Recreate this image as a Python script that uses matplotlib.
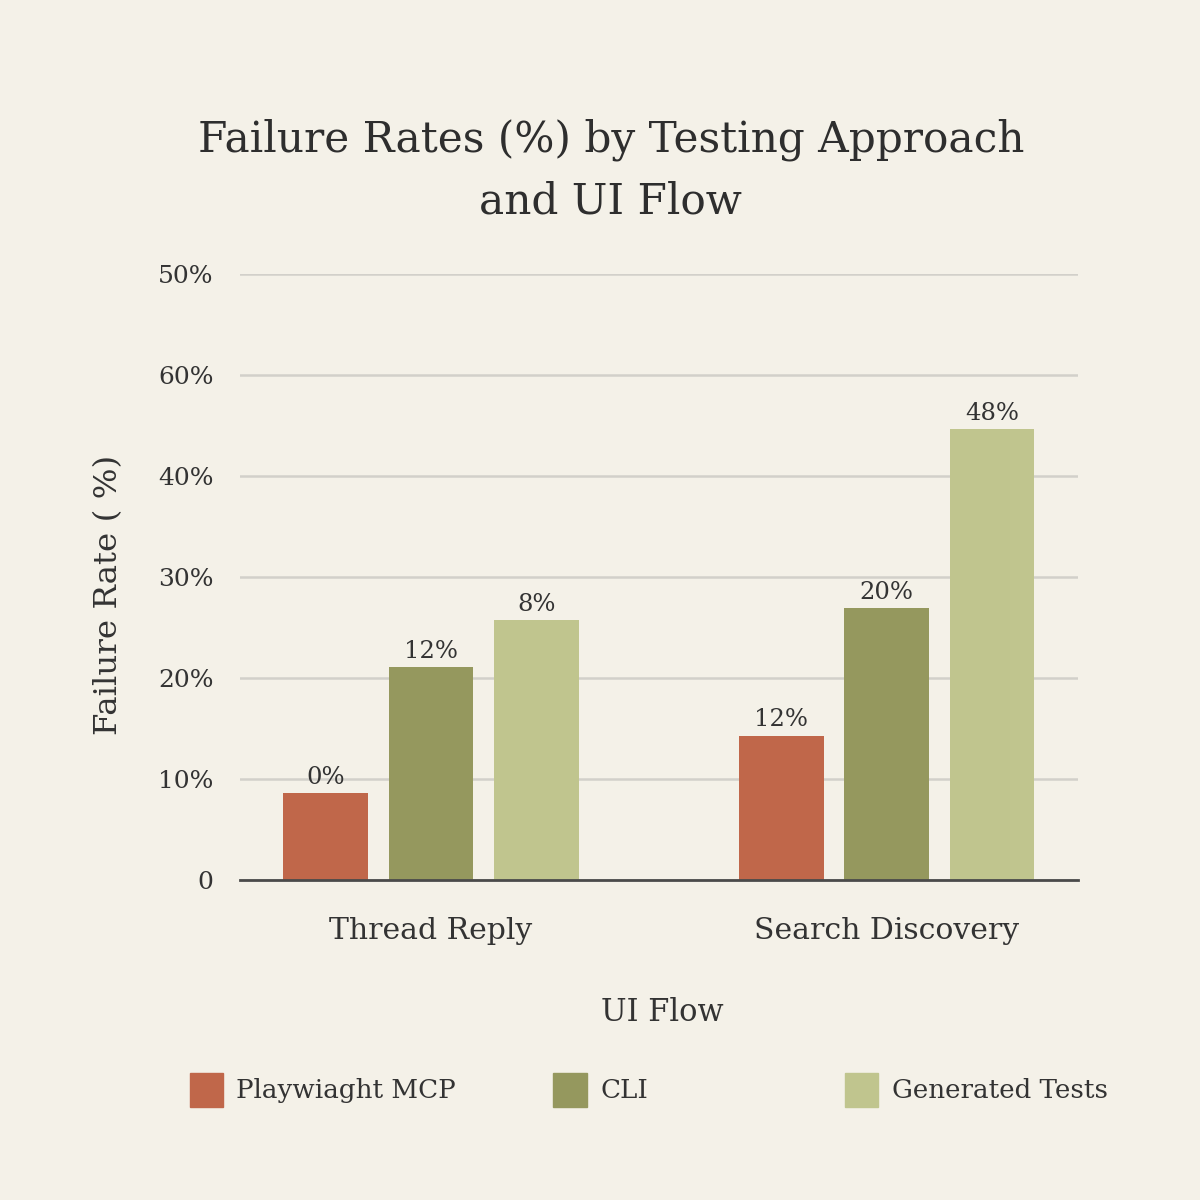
import matplotlib
matplotlib.use("Agg")
import matplotlib.pyplot as plt
import matplotlib.patches as mpatches
import numpy as np

flows = ["Thread Reply", "Search Discovery"]
approaches = ["Playwiaght MCP", "CLI", "Generated Tests"]
# bar heights as drawn against the axis
playwright_vals = [8.6, 14.3]
cli_vals = [21.1, 26.9]
generated_vals = [25.7, 44.6]
# labels printed above the bars
playwright_labels = ["0%", "12%"]
cli_labels = ["12%", "20%"]
generated_labels = ["8%", "48%"]
y_ticks = [0, 10, 20, 30, 40, 50, 60]
y_tick_labels = ["0", "10%", "20%", "30%", "40%", "60%", "50%"]

colors = ["#C0674A", "#95985E", "#C0C58E"]
bg = "#F4F1E8"
text_color = "#333333"

plt.rcParams["font.family"] = ["DejaVu Serif"]

fig = plt.figure(figsize=(12, 12), dpi=100, facecolor=bg)
ax = fig.add_axes([0.2, 0.2667, 0.698, 0.505], facecolor=bg)

x = np.arange(len(flows))
width = 0.186
step = 0.231
series = [playwright_vals, cli_vals, generated_vals]
labels = [playwright_labels, cli_labels, generated_labels]
for i, (vals, labs) in enumerate(zip(series, labels)):
    bars = ax.bar(x + (i - 1) * step, vals, width, color=colors[i], zorder=3)
    for bar, lab in zip(bars, labs):
        ax.annotate(lab, (bar.get_x() + bar.get_width() / 2, bar.get_height()),
                    xytext=(0, 3), textcoords="offset points",
                    ha="center", va="bottom", fontsize=17.5, color=text_color)

ax.set_xlim(-0.419, 1.419)
ax.set_ylim(0, 60)
ax.set_yticks(y_ticks)
ax.set_yticklabels(y_tick_labels)
ax.set_xticks(x)
ax.set_xticklabels(flows)
ax.tick_params(axis="y", length=0, pad=19, labelsize=18, labelcolor=text_color)
ax.tick_params(axis="x", length=0, pad=27, labelsize=21.5, labelcolor=text_color)
ax.grid(axis="y", color="#D2D0CA", linewidth=1.8, zorder=0)
for side in ["left", "right", "top"]:
    ax.spines[side].set_visible(False)
ax.spines["bottom"].set_color("#4A4A4A")
ax.spines["bottom"].set_linewidth(2)
ax.spines["bottom"].set_zorder(4)

ax.set_ylabel("Failure Rate ( %)", fontsize=23.4, color=text_color)
ax.yaxis.set_label_coords(-0.138, 0.47)
ax.set_xlabel("UI Flow", fontsize=22, color=text_color)
ax.xaxis.set_label_coords(0.504, -0.193)

fig.text(0.509, 0.858, "Failure Rates (%) by Testing Approach\nand UI Flow",
         ha="center", va="center", fontsize=30.4, color="#2E2E2E", linespacing=1.6)

# legend items placed one by one to match the uneven spacing
legend_x = [0.158, 0.461, 0.704]
for lx, name, col in zip(legend_x, approaches, colors):
    fig.patches.append(mpatches.Rectangle((lx, 0.0775), 0.028, 0.028, color=col,
                                          transform=fig.transFigure, figure=fig))
    fig.text(lx + 0.039, 0.0915, name, ha="left", va="center", fontsize=18.8, color=text_color)

fig.savefig("out.png", dpi=100, facecolor=bg)
